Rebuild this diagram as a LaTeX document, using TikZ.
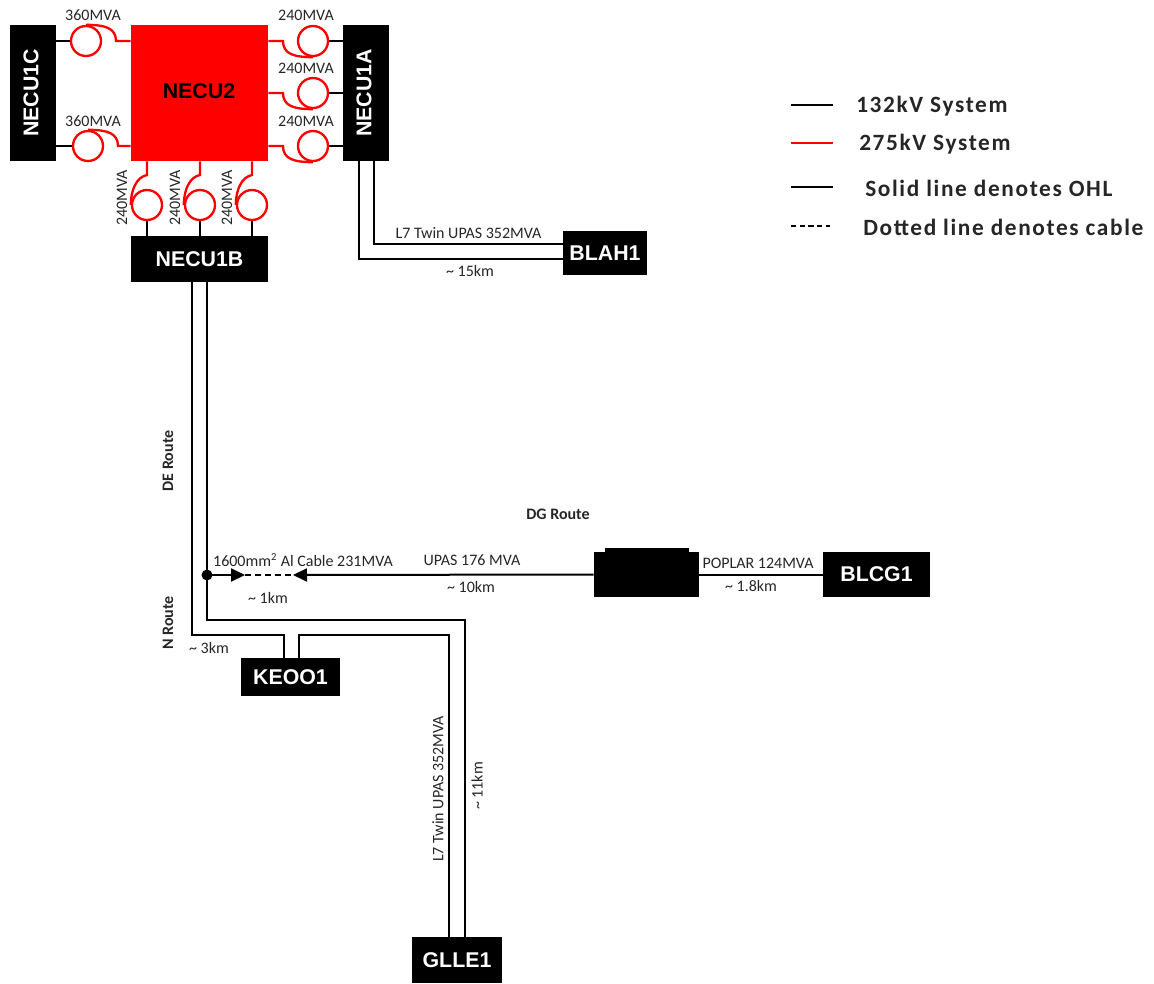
\documentclass[tikz,border=0pt]{standalone}
\usepackage{fontspec}
\setmainfont{Carlito}
\newfontfamily\boxfont{Liberation Sans}[BoldFont={Liberation Sans Bold}]
\newfontfamily\legfont{Carlito}[LetterSpace=7]
\usetikzlibrary{arrows.meta,calc}
\definecolor{sysred}{RGB}{255,0,0}
\newdimen\pxu \pxu=0.75pt
\tikzset{
 bus/.style={fill=black,draw=none,inner sep=0pt,minimum width=#1,text=white,font=\boxfont\bfseries\fontsize{16}{16}\selectfont},
 coil/.style={circle,draw=sysred,line width=1.75pt,fill=none,minimum size=30\pxu,inner sep=0pt},
 blk/.style={draw=black,line width=1.5pt,line join=miter},
 redl/.style={draw=sysred,line width=1.75pt},
 lab/.style={inner sep=0pt,font=\fontsize{12}{12}\selectfont,text=black!85},
 small/.style={inner sep=0pt,font=\fontsize{12}{12}\selectfont,text=black!85},
 route/.style={inner sep=0pt,font=\bfseries\fontsize{12}{12}\selectfont,text=black!85},
 leg/.style={inner sep=0pt,anchor=west,font=\legfont\bfseries\fontsize{17.5}{18}\selectfont,text=black!85},
 tip/.style={-{Triangle[length=10.5pt,width=9.75pt]}}
}
\begin{document}
\begin{tikzpicture}[x=0.75pt,y=-0.75pt]
\useasboundingbox (0,0) rectangle (1154,983);
% Buses
\node[bus=46\pxu,minimum height=136\pxu] (c) at (33,93) {\kern-1.5pt\rotatebox{90}{NECU1C}\kern1.5pt};
\node[fill=sysred,inner sep=0pt,minimum width=137\pxu,minimum height=136\pxu] (n2) at (199.5,93) {};
\node[inner sep=0pt,font=\boxfont\bfseries\fontsize{16}{16}\selectfont,text=black] (n2t) at (199,91) {NECU2};
\node[bus=46\pxu,minimum height=136\pxu] (a) at (366,93) {\kern-1.5pt\rotatebox{90}{NECU1A}\kern1.5pt};
\node[bus=137\pxu,minimum height=46\pxu] (b) at (199.5,259) {NECU1B};
\node[bus=84\pxu,minimum height=44\pxu] (blah) at (605,253) {BLAH1};
\node[bus=99\pxu,minimum height=38\pxu] (keo) at (290.5,677) {KEOO1};
\node[bus=90\pxu,minimum height=46\pxu] (gl) at (457,960) {GLLE1};
\node[bus=107\pxu,minimum height=45\pxu] (bl) at (876.5,574.5) {BLCG1};
\node[bus=105\pxu,minimum height=45\pxu] (sub) at (646.5,574.5) {};
\node[bus=84\pxu,minimum height=4\pxu] (subtop) at (647,550) {};
% Coils
\node[coil] (cc1) at (86,41) {};
\node[coil] (cc2) at (88,146) {};
\node[coil] (ca1) at (313,41) {};
\node[coil] (ca2) at (313,93) {};
\node[coil] (ca3) at (313,146) {};
\node[coil] (cb1) at (147,205) {};
\node[coil] (cb2) at (200,205) {};
\node[coil] (cb3) at (252,205) {};
% Black stubs
\draw[blk] (c.east|-cc1) -- (cc1.west);
\draw[blk] (c.east|-cc2) -- (cc2.west);
\draw[blk] (ca1.east) -- (a.west|-ca1);
\draw[blk] (ca2.east) -- (a.west|-ca2);
\draw[blk] (ca3.east) -- (a.west|-ca3);
\draw[blk] (cb1.south) -- (cb1|-b.north);
\draw[blk] (cb2.south) -- (cb2|-b.north);
\draw[blk] (cb3.south) -- (cb3|-b.north);
% Red tails
\draw[redl] (cc1.north) .. controls +(19,0) and +(0,-13) .. ($(cc1)+(30,0)$) -- (n2.west|-cc1);
\draw[redl] (cc2.north) .. controls +(19,0) and +(0,-13) .. ($(cc2)+(30,0)$) -- (n2.west|-cc2);
\draw[redl] (ca1.south) .. controls +(-19,0) and +(0,13) .. ($(ca1)+(-30,0)$) -- (n2.east|-ca1);
\draw[redl] (ca2.south) .. controls +(-19,0) and +(0,13) .. ($(ca2)+(-30,0)$) -- (n2.east|-ca2);
\draw[redl] (ca3.south) .. controls +(-19,0) and +(0,13) .. ($(ca3)+(-30,0)$) -- (n2.east|-ca3);
\draw[redl] (cb1.west) .. controls +(0,-16) and +(-10,2) .. ($(cb1)+(0,-30)$) -- (cb1|-n2.south);
\draw[redl] (cb2.west) .. controls +(0,-16) and +(-10,2) .. ($(cb2)+(0,-30)$) -- (cb2|-n2.south);
\draw[redl] (cb3.west) .. controls +(0,-16) and +(-10,2) .. ($(cb3)+(0,-30)$) -- (cb3|-n2.south);
% 132kV lines
\coordinate (a1) at (374,244);
\coordinate (a2) at (359,259);
\draw[blk] (a1|-a.south) -- (a1) -- (a1-|blah.west);
\draw[blk] (a2|-a.south) -- (a2) -- (a2-|blah.west);
\coordinate (r1) at (192,635);
\coordinate (r2) at (207,620);
\coordinate (r3) at (284,635);
\coordinate (r4) at (299,635);
\coordinate (r5) at (449,635);
\coordinate (r6) at (465,620);
\draw[blk] (r1|-b.south) -- (r1) -- (r3) -- (r3|-keo.north);
\draw[blk] (r2|-b.south) -- (r2) -- (r6) -- (r6|-gl.north);
\draw[blk] (r4|-keo.north) -- (r4) -- (r5) -- (r5|-gl.north);
% DG route
\coordinate (j) at (207,575);
\coordinate (d1) at (245,575);
\coordinate (d2) at (293,575);
\node[circle,fill=black,minimum size=11\pxu,inner sep=0pt] (dot) at (j) {};
\draw[blk,tip] (dot.center) -- (d1);
\draw[blk,dash pattern=on 4.5pt off 3pt] (d1) -- (d2);
\draw[blk,tip] (sub.west) -- (d2);
\draw[blk] (sub.east) -- (bl.west);
% Capacity labels
\node[lab] (l1) at (93,15) {360MVA};
\node[lab] (l2) at (93,121) {360MVA};
\node[lab] (l3) at (306,15) {240MVA};
\node[lab] (l4) at (306,68) {240MVA};
\node[lab] (l5) at (306,121) {240MVA};
\node[lab,rotate=90] (l6) at (122,198) {240MVA};
\node[lab,rotate=90] (l7) at (175,198) {240MVA};
\node[lab,rotate=90] (l8) at (227,198) {240MVA};
\node[small] (t1) at (468.5,233) {L7 Twin UPAS 352MVA};
\node[small] (t2) at (470,271) {\textasciitilde\ 15km};
\node[small] (t3) at (303,560) {1600mm\textsuperscript{2} Al Cable 231MVA};
\node[small] (t4) at (268,598) {\textasciitilde\ 1km};
\node[small] (t5) at (472,560) {UPAS 176 MVA};
\node[small] (t6) at (471,587) {\textasciitilde\ 10km};
\node[small] (t7) at (758,563) {POPLAR 124MVA};
\node[small] (t8) at (751,586) {\textasciitilde\ 1.8km};
\node[small] (t9) at (209,648) {\textasciitilde\ 3km};
\node[small,rotate=90] (t10) at (438,789) {L7 Twin UPAS 352MVA};
\node[small,rotate=90] (t11) at (477,786) {\textasciitilde\ 11km};
\node[route,rotate=90] (t12) at (168,461) {DE Route};
\node[route,rotate=90] (t13) at (168,623) {N Route};
\node[route] (t14) at (558,514) {DG Route};
% Legend
\coordinate (k1) at (791,105); \coordinate (k1e) at (833,105);
\coordinate (k2) at (791,143); \coordinate (k2e) at (833,143);
\coordinate (k3) at (791,187); \coordinate (k3e) at (833,187);
\coordinate (k4) at (791,226); \coordinate (k4e) at (830,226);
\draw[blk] (k1) -- (k1e);
\draw[redl] (k2) -- (k2e);
\draw[blk] (k3) -- (k3e);
\draw[blk,dash pattern=on 4pt off 2.5pt] (k4) -- (k4e);
\node[leg] (g1) at (856,106) {132kV System};
\node[leg] (g2) at (859,144) {275kV System};
\node[leg] (g3) at (865,188) {Solid line denotes OHL};
\node[leg] (g4) at (863,227) {Dotted line denotes cable};
\end{tikzpicture}
\end{document}
